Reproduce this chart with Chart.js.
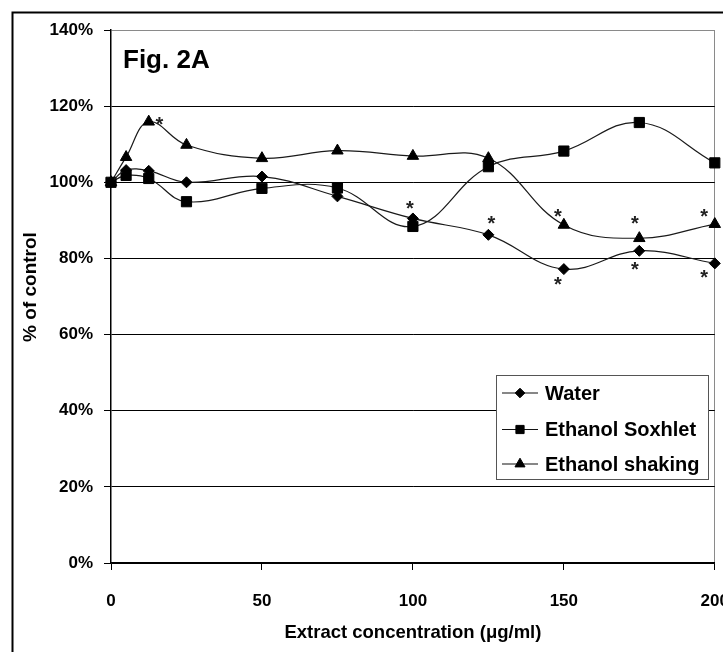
<!DOCTYPE html>
<html><head><meta charset="utf-8">
<script src="https://cdn.jsdelivr.net/npm/chart.js@4/dist/chart.umd.min.js"></script>
<style>html,body{margin:0;padding:0;background:#fff}canvas{display:block}</style>
</head><body>
<canvas id="c" width="723" height="652"></canvas>
<script>
// ---- data ----
const concentrations = [0, 5, 12.5, 25, 50, 75, 100, 125, 150, 175, 200];
const water          = [100, 103.2, 103, 100, 101.5, 96.3, 90.5, 86.2, 77.2, 82, 78.7];
const ethanolSoxhlet = [100, 101.8, 101, 94.9, 98.4, 98.5, 88.4, 104.1, 108.2, 115.7, 105.1];
const ethanolShaking = [100, 106.6, 115.9, 109.8, 106.3, 108.3, 106.9, 106.3, 88.8, 85.3, 89];
const seriesNames = ['Water', 'Ethanol Soxhlet', 'Ethanol shaking'];
const xTickValues = [0, 50, 100, 150, 200];
const yTickValues = [0, 20, 40, 60, 80, 100, 120, 140];
// significance asterisks (x in µg/ml, y in % of control)
const starX = [16, 99, 126, 148, 148, 173.5, 173.5, 196.5, 196.5];
const starY = [116.5, 94.5, 90.6, 92.3, 74.4, 90.5, 78.5, 92.3, 76.3];
const figLabel = 'Fig. 2A';
const xTitle = 'Extract concentration (\u03BCg/ml)';
const yTitle = '% of control';

const FONT = 'Arial, "Liberation Sans", Helvetica, sans-serif';
const styles = ['rectRot', 'rect', 'triangle'];
const radii = [5.5, 7.2, 6.6];
const seriesValues = [water, ethanolSoxhlet, ethanolShaking];

const datasets = seriesValues.map((vals, i) => ({
  label: seriesNames[i],
  data: concentrations.map((c, j) => ({x: c, y: vals[j]})),
  borderColor: '#1a1a1a',
  borderWidth: 1.2,
  tension: 0.4,
  fill: false,
  pointStyle: styles[i],
  pointRadius: radii[i],
  pointBackgroundColor: '#000',
  pointBorderColor: '#000',
  pointBorderWidth: 1,
  clip: false
}));

function marker(ctx, style, x, y, r) {
  ctx.save();
  ctx.fillStyle = '#000'; ctx.strokeStyle = '#000'; ctx.lineWidth = 1;
  ctx.beginPath();
  if (style === 'rectRot') {
    ctx.moveTo(x - r, y); ctx.lineTo(x, y - r); ctx.lineTo(x + r, y); ctx.lineTo(x, y + r);
  } else if (style === 'rect') {
    const s = r * Math.SQRT1_2; ctx.rect(x - s, y - s, 2 * s, 2 * s);
  } else {
    ctx.moveTo(x, y - r);
    ctx.lineTo(x + r * Math.sin(2 * Math.PI / 3), y - r * Math.cos(2 * Math.PI / 3));
    ctx.lineTo(x + r * Math.sin(4 * Math.PI / 3), y - r * Math.cos(4 * Math.PI / 3));
  }
  ctx.closePath(); ctx.fill(); ctx.stroke();
  ctx.restore();
}

const deco = {
  id: 'deco',
  beforeDraw(chart) {
    const ctx = chart.ctx;
    ctx.save();
    ctx.fillStyle = '#fff';
    ctx.fillRect(0, 0, chart.width, chart.height);
    ctx.strokeStyle = '#000'; ctx.lineWidth = 2;
    ctx.beginPath();
    ctx.moveTo(12.5, chart.height); ctx.lineTo(12.5, 12.5); ctx.lineTo(chart.width, 12.5);
    ctx.stroke();
    ctx.restore();
  },
  afterDraw(chart) {
    const ctx = chart.ctx, xs = chart.scales.x, ys = chart.scales.y, a = chart.chartArea;
    ctx.save();
    // figure label
    ctx.fillStyle = '#000';
    ctx.font = 'bold 26px ' + FONT;
    ctx.textAlign = 'left'; ctx.textBaseline = 'alphabetic';
    ctx.fillText(figLabel, a.left + 12, 68);
    // y title
    ctx.save();
    ctx.translate(31, 287);
    ctx.rotate(-Math.PI / 2);
    ctx.font = 'bold 19px ' + FONT;
    ctx.textAlign = 'center'; ctx.textBaseline = 'middle';
    ctx.fillText(yTitle, 0, 0);
    ctx.restore();
    // asterisks
    ctx.font = 'bold 20px ' + FONT;
    ctx.fillStyle = '#222';
    ctx.textAlign = 'center'; ctx.textBaseline = 'alphabetic';
    for (let i = 0; i < starX.length; i++) {
      ctx.fillText('*', xs.getPixelForValue(starX[i]), ys.getPixelForValue(starY[i]) + 11.5);
    }
    // legend
    const lx = 496.5, ly = 375.5, lw = 212, lh = 104;
    ctx.fillStyle = '#fff';
    ctx.fillRect(lx, ly, lw, lh);
    ctx.strokeStyle = '#555'; ctx.lineWidth = 1;
    ctx.strokeRect(lx, ly, lw, lh);
    const rows = [393, 429.5, 464];
    const lr = [4.8, 5.8, 5.8];
    ctx.font = 'bold 20px ' + FONT;
    ctx.textAlign = 'left'; ctx.textBaseline = 'middle';
    for (let i = 0; i < seriesNames.length; i++) {
      ctx.strokeStyle = '#111'; ctx.lineWidth = 1.2;
      ctx.beginPath(); ctx.moveTo(502, rows[i]); ctx.lineTo(538, rows[i]); ctx.stroke();
      marker(ctx, styles[i], 520, rows[i], lr[i]);
      ctx.fillStyle = '#000';
      ctx.fillText(seriesNames[i], 545, rows[i] + 1);
    }
    ctx.restore();
  }
};

new Chart(document.getElementById('c'), {
  type: 'line',
  data: {datasets},
  options: {
    responsive: false,
    animation: false,
    devicePixelRatio: 1,
    layout: {padding: {left: 0, right: 8, top: 30, bottom: 0}},
    plugins: {legend: {display: false}, tooltip: {enabled: false}},
    scales: {
      x: {
        type: 'linear', min: 0, max: 200,
        afterBuildTicks(s) { s.ticks = xTickValues.map(v => ({value: v})); },
        afterFit(s) { s.height = 89; s.paddingLeft = 0; s.paddingRight = 0; },
        ticks: {
          color: '#000', padding: 21, maxRotation: 0, autoSkip: false,
          font: {family: FONT, size: 17, weight: 'bold'}
        },
        grid: {
          color: c => (c.tick && c.tick.value === 200) ? '#8a8a8a' : 'rgba(0,0,0,0)',
          tickColor: '#000', tickLength: 7, lineWidth: 1
        },
        border: {color: '#000', width: 1.5},
        title: {
          display: true, text: xTitle, color: '#000',
          font: {family: FONT, size: 18.5, weight: 'bold'},
          padding: {top: 4, bottom: 8}
        }
      },
      y: {
        type: 'linear', min: 0, max: 140,
        afterBuildTicks(s) { s.ticks = yTickValues.map(v => ({value: v})); },
        afterFit(s) { s.width = 111; s.paddingTop = 0; s.paddingBottom = 0; },
        ticks: {
          color: '#000', padding: 11, autoSkip: false,
          callback: v => v + '%',
          font: {family: FONT, size: 17, weight: 'bold'}
        },
        grid: {
          color: c => (c.tick && c.tick.value === 140) ? '#8a8a8a' : '#000',
          tickColor: '#000', tickLength: 7, lineWidth: 1
        },
        border: {color: '#000', width: 1.5},
        title: {display: false}
      }
    }
  },
  plugins: [deco]
});
</script>
</body></html>
